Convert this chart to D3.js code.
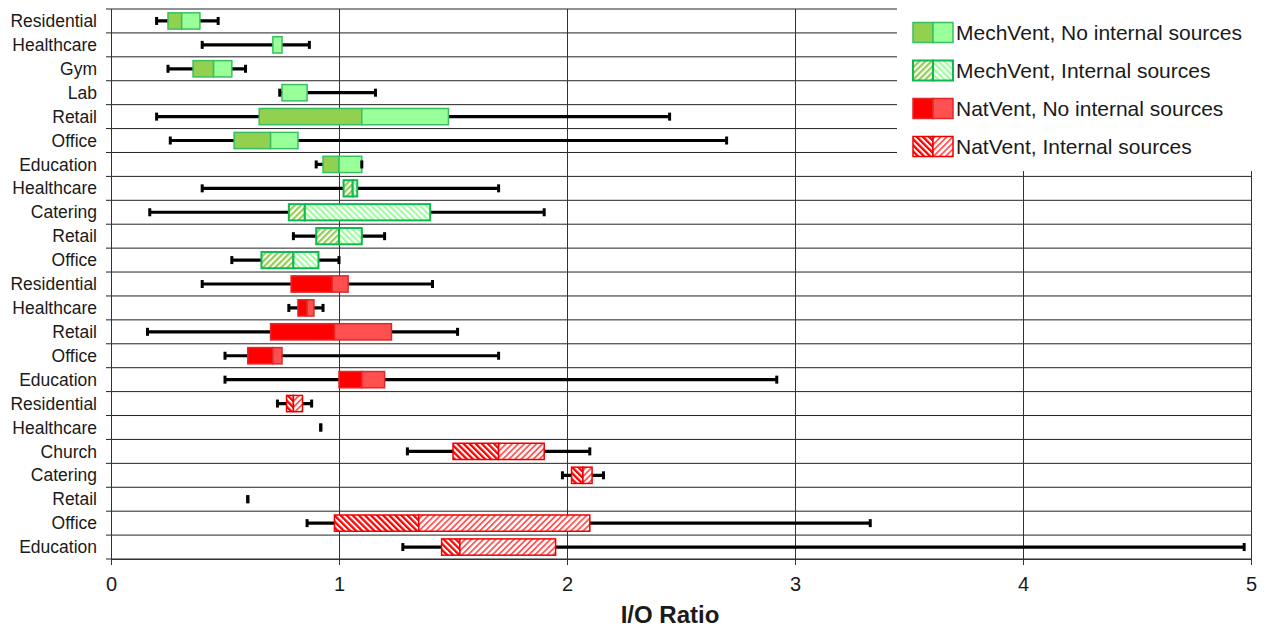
<!DOCTYPE html>
<html>
<head>
<meta charset="utf-8">
<script src="https://cdn.jsdelivr.net/npm/d3@7"></script>
<style>
  html, body { margin: 0; padding: 0; background: #fff; }
  svg { display: block; font-family: "Liberation Sans", Arial, sans-serif; }
</style>
</head>
<body>
<svg id="chart" width="1265" height="628"></svg>
<script>
// Building categories, top to bottom
const labels = ["Residential","Healthcare","Gym","Lab","Retail","Office","Education",
  "Healthcare","Catering","Retail","Office",
  "Residential","Healthcare","Retail","Office","Education",
  "Residential","Healthcare","Church","Catering","Retail","Office","Education"];
// Series index per row: 0 MechVent no sources, 1 MechVent sources, 2 NatVent no sources, 3 NatVent sources
const groups = [0,0,0,0,0,0,0, 1,1,1,1, 2,2,2,2,2, 3,3,3,3,3,3,3];
// Five-number summaries of the I/O ratio
const mins    = [0.20,0.40,0.25,0.74,0.20,0.26,0.90, 0.40,0.17,0.80,0.53, 0.40,0.78,0.16,0.50,0.50, 0.73,0.92,1.30,1.98,0.60,0.86,1.28];
const q1s     = [0.25,0.71,0.36,0.75,0.65,0.54,0.93, 1.02,0.78,0.90,0.66, 0.79,0.82,0.70,0.60,1.00, 0.77,0.92,1.50,2.02,0.60,0.98,1.45];
const medians = [0.31,0.71,0.45,0.75,1.10,0.70,1.00, 1.06,0.85,1.00,0.80, 0.97,0.86,0.98,0.71,1.10, 0.80,0.92,1.70,2.07,0.60,1.35,1.53];
const q3s     = [0.39,0.75,0.53,0.86,1.48,0.82,1.10, 1.08,1.40,1.10,0.91, 1.04,0.89,1.23,0.75,1.20, 0.84,0.92,1.90,2.11,0.60,2.10,1.95];
const maxs    = [0.47,0.87,0.59,1.16,2.45,2.70,1.10, 1.70,1.90,1.20,1.00, 1.41,0.93,1.52,1.70,2.92, 0.88,0.92,2.10,2.16,0.60,3.33,4.97];
const seriesNames = ["MechVent, No internal sources","MechVent, Internal sources",
                     "NatVent, No internal sources","NatVent, Internal sources"];
const xTicks = [0,1,2,3,4,5];

const rows = labels.map((l,i) => ({label:l, g:groups[i], min:mins[i], q1:q1s[i], med:medians[i], q3:q3s[i], max:maxs[i], i}));

const svg = d3.select("#chart");
const plotLeft = 111, plotRight = 1251, plotTop = 9, plotBottom = 559;

const x = d3.scaleLinear().domain([0,5]).range([plotLeft,plotRight]);
const y = d3.scaleBand().domain(d3.range(labels.length)).range([plotTop,plotBottom]).paddingInner(0).paddingOuter(0);
const boxH = y.bandwidth()*0.68;

// Hatch patterns
const defs = svg.append("defs");
function hatch(id, angle, color, w, sp){
  const p = defs.append("pattern").attr("id",id).attr("patternUnits","userSpaceOnUse")
    .attr("width",sp).attr("height",sp).attr("patternTransform",`rotate(${angle})`);
  p.append("rect").attr("width",sp).attr("height",sp).attr("fill","#fff");
  p.append("rect").attr("x",0).attr("y",0).attr("width",w).attr("height",sp).attr("fill",color);
}
hatch("gDark", 45, "#92d050", 2.2, 4.3);
hatch("gLight", -45, "#99ff99", 2.0, 4.3);
hatch("rDark", -45, "#ff0000", 2.3, 4.3);
hatch("rLight", 45, "#ff5555", 1.8, 4.3);

const styles = [
  {lo:"#92d050", hi:"#99ff99", stroke:"#38c060", sw:1.5},
  {lo:"url(#gDark)", hi:"url(#gLight)", stroke:"#10b850", sw:2},
  {lo:"#ff0000", hi:"#ff5050", stroke:"#e02828", sw:1.5},
  {lo:"url(#rDark)", hi:"url(#rLight)", stroke:"#ee0000", sw:1.5}
];

// Grid: row separators with left ticks, vertical lines at each tick
const grid = svg.append("g");
d3.range(labels.length+1).forEach(k => {
  const yy = k < labels.length ? y(k) : plotBottom;
  grid.append("line").attr("x1",plotLeft-5).attr("x2",plotRight).attr("y1",yy).attr("y2",yy)
    .attr("stroke","#222").attr("stroke-width",1);
});
xTicks.forEach(t => {
  grid.append("line").attr("x1",Math.round(x(t))+0.5).attr("x2",Math.round(x(t))+0.5)
    .attr("y1",plotTop).attr("y2",plotBottom).attr("stroke","#333").attr("stroke-width",1);
});

// Category labels
svg.append("g").selectAll("text").data(rows).join("text")
  .attr("x",97).attr("y",d => y(d.i)+y.bandwidth()/2).attr("dy","0.35em")
  .attr("text-anchor","end").attr("font-size",17.5).attr("fill","#1a1a1a")
  .text(d => d.label);

// Box plots
const bp = svg.append("g");
rows.forEach(d => {
  const cy = y(d.i)+y.bandwidth()/2;
  const st = styles[d.g];
  bp.append("line").attr("x1",x(d.min)).attr("x2",x(d.max)).attr("y1",cy).attr("y2",cy)
    .attr("stroke","#000").attr("stroke-width",3.2);
  if (d.med > d.q1) bp.append("rect").attr("x",x(d.q1)).attr("y",cy-boxH/2)
    .attr("width",x(d.med)-x(d.q1)).attr("height",boxH)
    .attr("fill",st.lo).attr("stroke",st.stroke).attr("stroke-width",st.sw);
  if (d.q3 > d.med) bp.append("rect").attr("x",x(d.med)).attr("y",cy-boxH/2)
    .attr("width",x(d.q3)-x(d.med)).attr("height",boxH)
    .attr("fill",st.hi).attr("stroke",st.stroke).attr("stroke-width",st.sw);
  [d.min,d.max].forEach(v => {
    bp.append("rect").attr("x",x(v)-1.5).attr("y",cy-4).attr("width",3).attr("height",8).attr("fill","#000");
  });
});

// Legend panel
const lg = svg.append("g");
lg.append("rect").attr("x",897).attr("y",0).attr("width",368).attr("height",171).attr("fill","#fff");
seriesNames.forEach((name,k) => {
  const cy = 32.5 + k*38;
  const st = styles[k];
  lg.append("rect").attr("x",913).attr("y",cy-10).attr("width",20).attr("height",20)
    .attr("fill",st.lo).attr("stroke",st.stroke).attr("stroke-width",st.sw);
  lg.append("rect").attr("x",933).attr("y",cy-10).attr("width",20).attr("height",20)
    .attr("fill",st.hi).attr("stroke",st.stroke).attr("stroke-width",st.sw);
  lg.append("text").attr("x",956).attr("y",cy).attr("dy","0.36em")
    .attr("font-size",21).attr("fill","#1a1a1a").text(name);
});

// X axis
const ax = svg.append("g").attr("transform",`translate(0,${plotBottom})`)
  .call(d3.axisBottom(x).tickValues(xTicks).tickFormat(d3.format("d")).tickSize(6).tickPadding(12));
ax.select(".domain").attr("stroke","#333");
ax.selectAll(".tick line").attr("stroke","#333");
ax.selectAll("text").attr("font-size",20).attr("fill","#1a1a1a").attr("font-family","Liberation Sans, Arial, sans-serif");

svg.append("text").attr("x",670).attr("y",623).attr("text-anchor","middle")
  .attr("font-size",24).attr("font-weight","bold").attr("fill","#1a1a1a").text("I/O Ratio");
</script>
</body>
</html>
